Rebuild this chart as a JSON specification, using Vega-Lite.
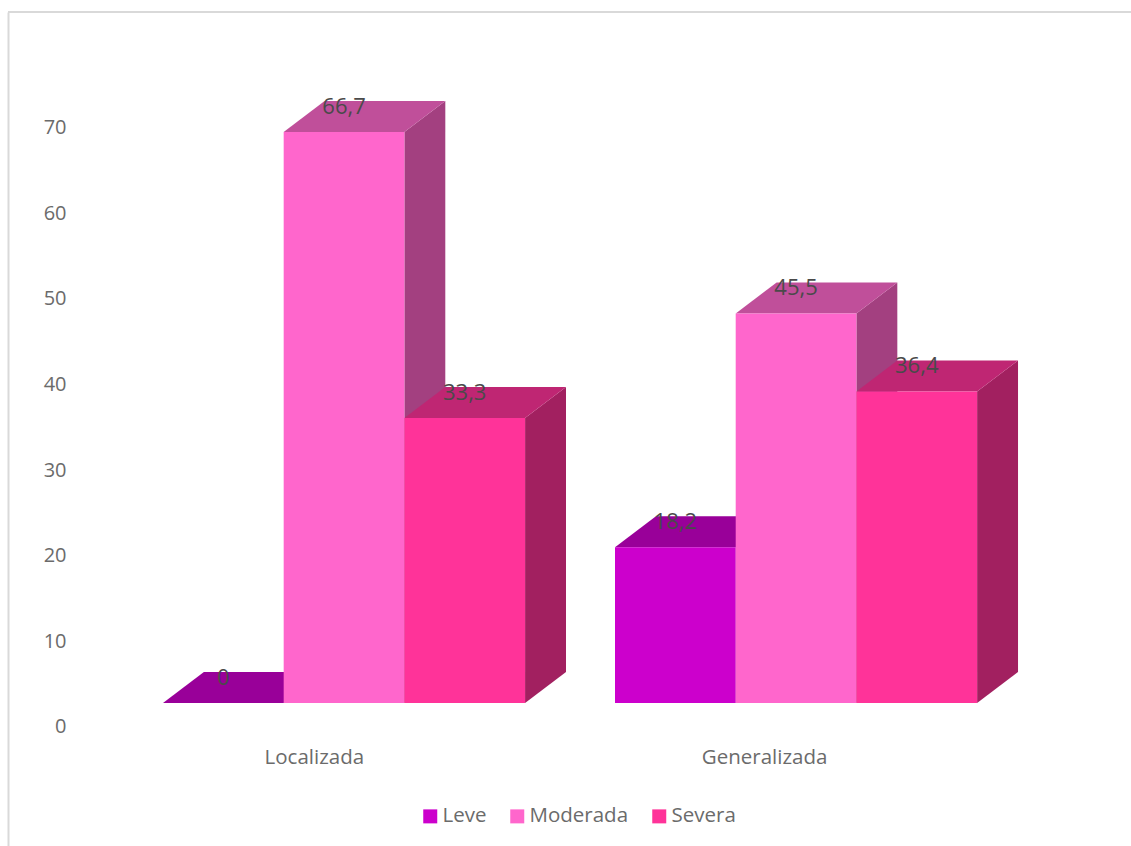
{
  "$schema": "https://vega.github.io/schema/vega-lite/v6.json",
  "width": 1123,
  "height": 834,
  "autosize": {"type": "none"},
  "padding": {"left": 8, "top": 12, "right": 0, "bottom": 0},
  "background": "#ffffff",
  "view": {"stroke": null},
  "config": {
    "font": "Open Sans",
    "legend": {"padding": 0}
  },
  "data": {
    "values": [
      {"group": "Localizada", "level": "Leve", "value": 0},
      {"group": "Localizada", "level": "Moderada", "value": 66.7},
      {"group": "Localizada", "level": "Severa", "value": 33.3},
      {"group": "Generalizada", "level": "Leve", "value": 18.2},
      {"group": "Generalizada", "level": "Moderada", "value": 45.5},
      {"group": "Generalizada", "level": "Severa", "value": 36.4}
    ]
  },
  "transform": [
    {"calculate": "(datum.group === 'Localizada' ? 0 : 3.745) + indexof(['Leve','Moderada','Severa'], datum.level)", "as": "x0"},
    {"calculate": "datum.x0 + 1", "as": "x1"},
    {"calculate": "datum.x0 + 0.5", "as": "xc"},
    {"calculate": "datum.group + '-' + datum.level", "as": "bar"},
    {"calculate": "replace(toString(datum.value), '.', ',')", "as": "label"}
  ],
  "layer": [
    {
      "transform": [
        {"calculate": "[0, 1]", "as": "k"},
        {"flatten": ["k"]},
        {"calculate": "datum.x1 + 0.339 * datum.k", "as": "px"},
        {"calculate": "3.62 * datum.k", "as": "py0"},
        {"calculate": "datum.value + 3.62 * datum.k", "as": "py1"}
      ],
      "mark": {"type": "area", "interpolate": "linear", "opacity": 1},
      "encoding": {
        "x": {"field": "px", "type": "quantitative", "scale": {"domain": [-1.284, 8.02], "nice": false, "zero": false}},
        "y": {"field": "py1", "type": "quantitative", "stack": null, "scale": {"domain": [-16.71, 80.72], "nice": false, "zero": false}},
        "y2": {"field": "py0"},
        "detail": {"field": "bar"},
        "color": {"field": "level", "type": "nominal", "legend": null, "scale": {"domain": ["Leve", "Moderada", "Severa"], "range": ["#860086", "#A34080", "#A22060"]}}
      }
    },
    {
      "transform": [
        {"calculate": "[0, 1, 2, 3]", "as": "k"},
        {"flatten": ["k"]},
        {"calculate": "datum.x0 + [0, 0.339, 1, 1.339][datum.k]", "as": "px"},
        {"calculate": "datum.value + [0, 0, 0, 3.62][datum.k]", "as": "py0"},
        {"calculate": "datum.value + [0, 3.62, 3.62, 3.62][datum.k]", "as": "py1"}
      ],
      "mark": {"type": "area", "interpolate": "linear", "opacity": 1},
      "encoding": {
        "x": {"field": "px", "type": "quantitative", "scale": {"domain": [-1.284, 8.02], "nice": false, "zero": false}},
        "y": {"field": "py1", "type": "quantitative", "stack": null, "scale": {"domain": [-16.71, 80.72], "nice": false, "zero": false}},
        "y2": {"field": "py0"},
        "detail": {"field": "bar"},
        "color": {"field": "level", "type": "nominal", "legend": null, "scale": {"domain": ["Leve", "Moderada", "Severa"], "range": ["#990099", "#C04F9A", "#BF2673"]}}
      }
    },
    {
      "mark": {"type": "rect"},
      "encoding": {
        "x": {
          "field": "x0",
          "type": "quantitative",
          "scale": {"domain": [-1.284, 8.02], "nice": false, "zero": false},
          "axis": {
            "title": null,
            "orient": "bottom",
            "domain": false,
            "ticks": false,
            "grid": false,
            "values": [1.25, 4.98],
            "labelExpr": "datum.value < 3 ? 'Localizada' : 'Generalizada'",
            "labelFontSize": 20.5,
            "labelColor": "#6b6b6b",
            "labelPadding": -99,
            "labelFlush": false
          }
        },
        "x2": {"field": "x1"},
        "y": {
          "field": "value",
          "type": "quantitative",
          "scale": {"domain": [-16.71, 80.72], "nice": false, "zero": false},
          "axis": {
            "title": null,
            "orient": "left",
            "domain": true,
            "domainColor": "#d9d9d9",
            "domainWidth": 2,
            "ticks": false,
            "grid": false,
            "values": [0, 10, 20, 30, 40, 50, 60, 70],
            "labelFontSize": 20,
            "labelColor": "#6b6b6b",
            "labelPadding": -58,
            "labelOffset": 24,
            "labelFlush": false
          }
        },
        "y2": {"datum": 0},
        "color": {
          "field": "level",
          "type": "nominal",
          "scale": {"domain": ["Leve", "Moderada", "Severa"], "range": ["#CC00CC", "#FF66CC", "#FF3399"]},
          "legend": {
            "title": null,
            "orient": "none",
            "direction": "horizontal",
            "legendX": 412,
            "legendY": 794,
            "symbolType": "square",
            "symbolSize": 196,
            "symbolStrokeWidth": 0,
            "labelFontSize": 20.5,
            "labelColor": "#6b6b6b",
            "labelOffset": 2,
            "columnPadding": 20
          }
        }
      }
    },
    {
      "mark": {"type": "text", "fontSize": 22, "color": "#4a4a4a", "dy": -25, "baseline": "middle", "align": "center"},
      "encoding": {
        "x": {"field": "xc", "type": "quantitative", "scale": {"domain": [-1.284, 8.02], "nice": false, "zero": false}},
        "y": {"field": "value", "type": "quantitative", "scale": {"domain": [-16.71, 80.72], "nice": false, "zero": false}},
        "text": {"field": "label", "type": "nominal"}
      }
    },
    {
      "mark": {"type": "rule", "color": "#d9d9d9", "strokeWidth": 2},
      "encoding": {
        "y": {"datum": 80.72, "type": "quantitative", "scale": {"domain": [-16.71, 80.72], "nice": false, "zero": false}}
      }
    }
  ],
  "resolve": {"scale": {"color": "independent"}}
}
